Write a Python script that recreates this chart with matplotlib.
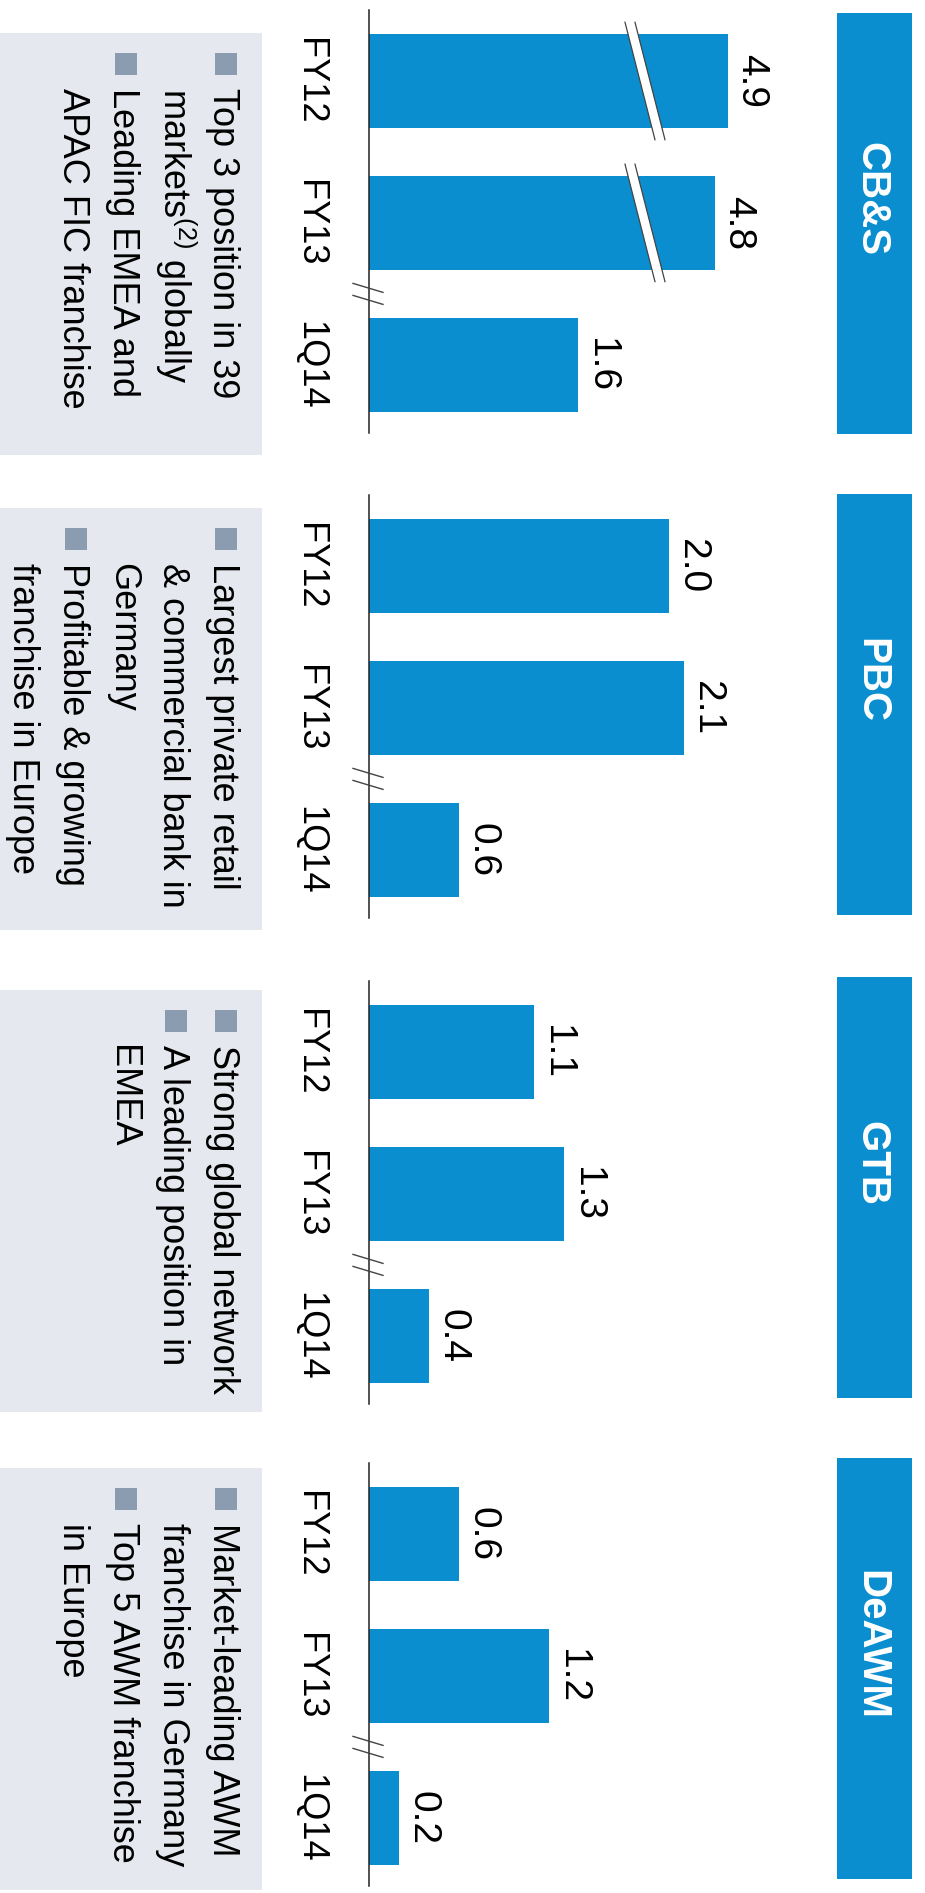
import numpy as np
import matplotlib
matplotlib.use("Agg")
import matplotlib.pyplot as plt
import matplotlib.transforms as mtransforms
from matplotlib.patches import Rectangle, Polygon

plt.rcParams['font.family'] = ['Liberation Sans', 'DejaVu Sans']
plt.rcParams['mathtext.fontset'] = 'custom'
plt.rcParams['mathtext.rm'] = 'Liberation Sans'

# revenue by business segment (EUR bn)
segments = ['CB&S', 'PBC', 'GTB', 'DeAWM']
periods = ['FY12', 'FY13', '1Q14']
cbs = [4.9, 4.8, 1.6]
pbc = [2.0, 2.1, 0.6]
gtb = [1.1, 1.3, 0.4]
deawm = [0.6, 1.2, 0.2]
values = [cbs, pbc, gtb, deawm]

notes_cbs = [["Top 3 position in 39", r"markets$^{\mathrm{(2)}}$ globally"],
             ["Leading EMEA and", "APAC FIC franchise"]]
notes_pbc = [["Largest private retail", "& commercial bank in", "Germany"],
             ["Profitable & growing", "franchise in Europe"]]
notes_gtb = [["Strong global network"],
             ["A leading position in", "EMEA"]]
notes_deawm = [["Market-leading AWM", "franchise in Germany"],
               ["Top 5 AWM franchise", "in Europe"]]
notes = [notes_cbs, notes_pbc, notes_gtb, notes_deawm]

BLUE = '#0A8ECF'
BOX = '#E5E8EE'
BULLET = '#8B9CB1'
LINE = '#222222'

W, H = 925, 1893
fig = plt.figure(figsize=(W / 100, H / 100), dpi=100)
bg = fig.add_axes([0, 0, 1, 1])
bg.set_xlim(0, W)
bg.set_ylim(H, 0)
bg.axis('off')
bg.set_zorder(0)

axis_top = [10, 495, 981, 1463]
head_top = [13, 494, 977, 1458]
box_top = [33, 508, 990, 1468]
px_per_unit = [130.8, 150, 150, 150]
cuts = [(2.11, 2.155), None, None, None]  # (break position, skipped range)

AX_X, AX_W, AX_H = 369, 460, 423
YLIM = (2.48, -0.50)
ppu_y = AX_H / (YLIM[0] - YLIM[1])
bar_h = 93.5 / ppu_y


def broken(lo, gap):
    def fwd(x):
        x = np.asarray(x, float)
        return np.where(x > lo + gap, x - gap, np.minimum(x, lo))

    def inv(y):
        y = np.asarray(y, float)
        return np.where(y > lo, y + gap, y)
    return fwd, inv


for k, seg in enumerate(segments):
    # header strip
    hh = 421
    bg.add_patch(Rectangle((837, head_top[k]), 75, hh, color=BLUE, lw=0))
    bg.text(860, head_top[k] + hh / 2 - 24, seg, rotation=-90, rotation_mode='anchor',
            ha='center', va='baseline', color='white', fontweight='bold', fontsize=29)

    # grey notes box
    bg.add_patch(Rectangle((0, box_top[k]), 262, 422, color=BOX, lw=0))
    line = 0
    for para in notes[k]:
        base = 213 - 50 * line
        bg.add_patch(Rectangle((base + 2, box_top[k] + 20), 22, 22, color=BULLET, lw=0))
        for txt in para:
            base = 213 - 50 * line
            bg.text(base, box_top[k] + 55, txt, rotation=-90, rotation_mode='anchor',
                    ha='left', va='baseline', fontsize=26, color='black')
            line += 1

    # bar chart
    ax = fig.add_axes([AX_X / W, 1 - (axis_top[k] + AX_H) / H, AX_W / W, AX_H / H])
    ax.patch.set_alpha(0)
    vals = values[k]
    span = AX_W / px_per_unit[k]
    if cuts[k] is not None:
        lo, gap = cuts[k]
        fwd, inv = broken(lo, gap)
        ax.set_xscale('function', functions=(fwd, inv))
        ax.set_xlim(0, span + gap)
    else:
        ax.set_xlim(0, span)
    ax.set_ylim(*YLIM)
    ax.barh(range(len(vals)), vals, height=bar_h, color=BLUE, zorder=2)

    for s in ['top', 'right', 'bottom']:
        ax.spines[s].set_visible(False)
    ax.spines['left'].set_color(LINE)
    ax.spines['left'].set_linewidth(1.1)
    ax.set_xticks([])
    ax.set_yticks([])

    xy_mix = mtransforms.blended_transform_factory(ax.transAxes, ax.transData)
    for i, (p, v) in enumerate(zip(periods, vals)):
        ax.text((300 - AX_X) / AX_W, i, p, transform=xy_mix, rotation=-90,
                rotation_mode='anchor', ha='center', va='baseline', fontsize=26,
                clip_on=False)
        ax.annotate(f"{v:.1f}", xy=(v, i), xytext=(9.4, 0), textcoords='offset points',
                    rotation=-90, rotation_mode='anchor', ha='center', va='baseline',
                    fontsize=28, annotation_clip=False)

    # break marks on bars that exceed the cut
    fx = 1 / AX_W
    if cuts[k] is not None:
        lo, gap = cuts[k]
        c = lo / span
        for i, v in enumerate(vals):
            if v <= lo + gap:
                continue
            y0 = i - bar_h / 2 - 12 / ppu_y
            y1 = i + bar_h / 2 + 12 / ppu_y
            left = [(c - 20 * fx, y0), (c + 10 * fx, y1)]
            right = [(c - 10 * fx, y0), (c + 20 * fx, y1)]
            ax.add_patch(Polygon([left[0], right[0], right[1], left[1]], closed=True,
                                 transform=xy_mix, facecolor='white', lw=0, zorder=3,
                                 clip_on=False))
            for seg_line in (left, right):
                ax.plot([seg_line[0][0], seg_line[1][0]], [seg_line[0][1], seg_line[1][1]],
                        transform=xy_mix, color='#444444', lw=0.9, zorder=4, clip_on=False)

    # break mark on the category axis before the quarter bar
    yc = 1.5
    for off in (-6, 6):
        ax.plot([-16 * fx, 14 * fx], [yc + (off - 4.5) / ppu_y, yc + (off + 4.5) / ppu_y],
                transform=xy_mix, color='#444444', lw=1.0, zorder=4, clip_on=False)

fig.savefig('out.png', dpi=100)
